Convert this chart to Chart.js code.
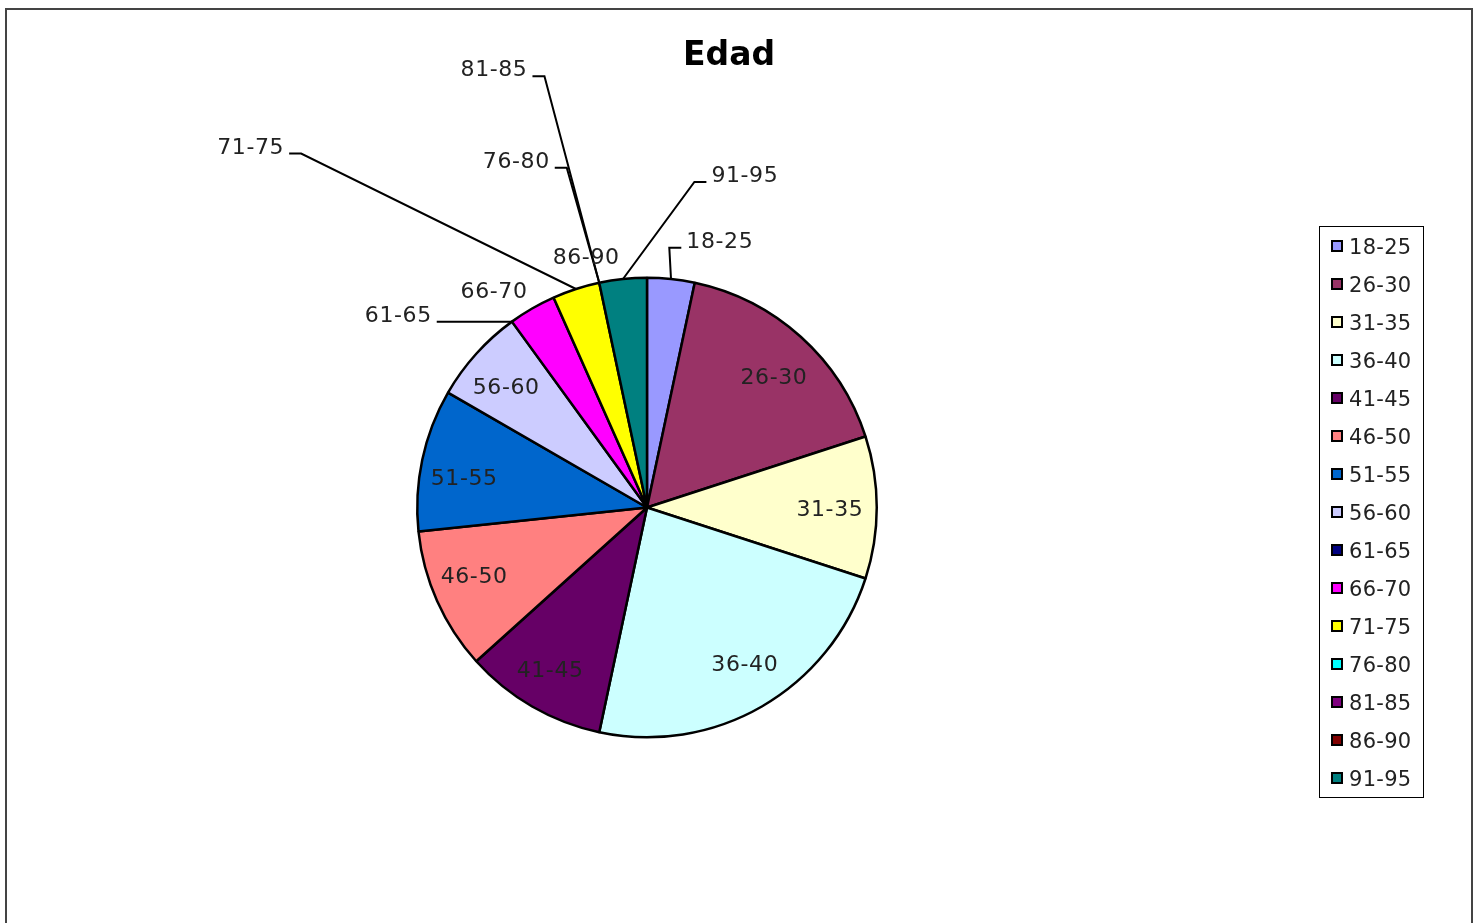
<!DOCTYPE html>
<html>
<head>
<meta charset="utf-8">
<title>Edad</title>
<script src="https://cdn.jsdelivr.net/npm/chart.js@4.4.1/dist/chart.umd.min.js"></script>
<style>
  html, body { margin: 0; padding: 0; background: #fff; overflow: hidden; }
  #frame { position: absolute; left: 5px; top: 8px; width: 1464px; height: 940px; border: 2px solid #444; border-bottom: none; }
  #wrap { position: absolute; left: 0; top: 0; width: 1478px; height: 923px; }
</style>
</head>
<body>
<div id="frame"></div>
<div id="wrap"><canvas id="edad" width="1478" height="923"></canvas></div>
<script>
var categories = ['18-25', '26-30', '31-35', '36-40', '41-45', '46-50', '51-55', '56-60',
                  '61-65', '66-70', '71-75', '76-80', '81-85', '86-90', '91-95'];
var counts = [1, 5, 3, 7, 3, 3, 3, 2, 0, 1, 1, 0, 0, 0, 1];
var sliceColors = ['#9999FF', '#993366', '#FFFFCC', '#CCFFFF', '#660066', '#FF8080', '#0066CC', '#CCCCFF',
                   '#000080', '#FF00FF', '#FFFF00', '#00FFFF', '#800080', '#800000', '#008080'];

// where each data label sits: angle from 12 o'clock (deg), distance in pie radii.
// leader = draw a line back to the middle of the slice's edge
var labelSpots = {
  '18-25': { deg: 15.2, dist: 1.208, leader: true },
  '26-30': { deg: 43.9, dist: 0.797 },
  '31-35': { deg: 90, dist: 0.796 },
  '36-40': { deg: 147.9, dist: 0.801 },
  '41-45': { deg: 210.9, dist: 0.821 },
  '46-50': { deg: 248.8, dist: 0.807 },
  '51-55': { deg: 279.6, dist: 0.807 },
  '56-60': { deg: 310.9, dist: 0.811 },
  '61-65': { deg: 307.9, dist: 1.372, leader: true },
  '66-70': { deg: 324.9, dist: 1.158 },
  '71-75': { deg: 312.4, dist: 2.336, leader: true },
  '76-80': { deg: 339.4, dist: 1.617, leader: true },
  '81-85': { deg: 340.8, dist: 2.025, leader: true },
  '86-90': { deg: 346.4, dist: 1.127 },
  '91-95': { deg: 16.35, dist: 1.513, leader: true }
};
var labelFont = '22px "DejaVu Sans"';
var textColor = '#222';

var sliceLabels = {
  id: 'sliceLabels',
  afterDatasetsDraw: function(chart) {
    var ctx = chart.ctx;
    var arcs = chart.getDatasetMeta(0).data;
    ctx.save();
    ctx.font = labelFont;
    ctx.letterSpacing = '0.6px';
    ctx.fillStyle = textColor;
    ctx.strokeStyle = '#000';
    ctx.lineWidth = 2;
    ctx.textAlign = 'center';
    ctx.textBaseline = 'alphabetic';
    arcs.forEach(function(arc, i) {
      var name = categories[i];
      var mid = (arc.startAngle + arc.endAngle) / 2;
      var R = arc.outerRadius;
      var spot = labelSpots[name];
      var a = spot.deg * Math.PI / 180 - Math.PI / 2;
      var tx = arc.x + spot.dist * R * Math.cos(a);
      var ty = arc.y + spot.dist * R * Math.sin(a);
      var base = ty + 8;
      ctx.fillText(name, tx, base);
      if (spot.leader) {
        var ex = arc.x + R * Math.cos(mid);
        var ey = arc.y + R * Math.sin(mid);
        var half = ctx.measureText(name).width / 2;
        var side = tx > ex ? -1 : 1;
        var sx = tx + side * (half + 5);
        ctx.beginPath();
        ctx.moveTo(sx, base);
        ctx.lineTo(sx + side * 12, base);
        ctx.lineTo(ex, ey);
        ctx.stroke();
      }
    });
    ctx.restore();
  }
};

var titleAndLegend = {
  id: 'titleAndLegend',
  afterDraw: function(chart) {
    var ctx = chart.ctx;
    ctx.save();
    ctx.fillStyle = '#000';
    ctx.font = 'bold 33px "DejaVu Sans"';
    ctx.textAlign = 'center';
    ctx.textBaseline = 'alphabetic';
    ctx.fillText('Edad', 729, 65);

    // legend box
    ctx.strokeStyle = '#000';
    ctx.lineWidth = 1;
    ctx.strokeRect(1319.5, 226.5, 104, 571);
    ctx.font = '21px "DejaVu Sans"';
    ctx.letterSpacing = '0.3px';
    ctx.textAlign = 'left';
    categories.forEach(function(name, i) {
      var cy = 246 + i * 38;
      ctx.fillStyle = sliceColors[i];
      ctx.fillRect(1332, cy - 5, 10, 10);
      ctx.lineWidth = 2;
      ctx.strokeRect(1332, cy - 5, 10, 10);
      ctx.fillStyle = textColor;
      ctx.fillText(name, 1349, cy + 7.5);
    });
    ctx.restore();
  }
};

var ctx = document.getElementById('edad').getContext('2d');
var edadChart = new Chart(ctx, {
  type: 'pie',
  data: {
    labels: categories,
    datasets: [{
      data: counts,
      backgroundColor: sliceColors,
      borderColor: '#000',
      borderWidth: 2.5
    }]
  },
  options: {
    responsive: false,
    animation: false,
    events: [],
    layout: { padding: { left: 416, right: 600, top: 276, bottom: 184 } },
    plugins: {
      legend: { display: false },
      title: { display: false },
      tooltip: { enabled: false }
    }
  },
  plugins: [sliceLabels, titleAndLegend]
});
</script>
</body>
</html>
